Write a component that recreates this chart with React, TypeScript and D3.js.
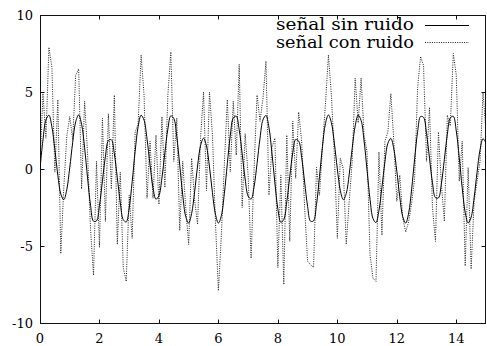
import * as d3 from 'd3'

const W = 487, H = 346
const M = { top: 15, right: 1, bottom: 23, left: 40 }

// muestreo cada 0.1 en t, de 0 a 15
const PASO = 0.1

const senalLimpia = [
  0, 1.89, 3.19, 3.49, 2.74, 1.26, -0.4, -1.63, -1.99, -1.35,
  0.07, 1.74, 3.06, 3.51, 2.9, 1.38, -0.58, -2.36, -3.39, -3.37,
  -2.37, -0.77, 0.82, 1.84, 1.9, 0.99, -0.56, -2.19, -3.29, -3.44,
  -2.53, -0.82, 1.15, 2.75, 3.49, 3.17, 1.94, 0.28, -1.21, -1.96,
  -1.73, -0.58, 1.06, 2.59, 3.45, 3.28, 2.1, 0.25, -1.68, -3.08,
  -3.51, -2.89, -1.47, 0.2, 1.52, 2.0, 1.48, 0.13, -1.54, -2.93,
  -3.51, -3.03, -1.6, 0.34, 2.17, 3.31, 3.43, 2.54, 0.98, -0.65,
  -1.76, -1.95, -1.15, 0.35, 2.0, 3.2, 3.48, 2.7, 1.06, -0.91,
  -2.59, -3.46, -3.27, -2.13, -0.49, 1.05, 1.92, 1.81, 0.76, -0.85,
  -2.43, -3.39, -3.36, -2.29, -0.49, 1.46, 2.95, 3.51, 3.01, 1.68,
  0.0, -1.39, -1.99, -1.59, -0.33, 1.34, 2.8, 3.5, 3.15, 1.82,
  -0.09, -1.97, -3.22, -3.48, -2.69, -1.19, 0.46, 1.67, 1.98, 1.3,
  -0.14, -1.81, -3.1, -3.51, -2.85, -1.3, 0.67, 2.42, 3.41, 3.35,
  2.31, 0.7, -0.89, -1.86, -1.88, -0.94, 0.63, 2.25, 3.32, 3.42,
  2.47, 0.74, -1.23, -2.81, -3.5, -3.13, -1.87, -0.2, 1.25, 1.97,
  1.69,
]

const senalRuido = [
  0.3, 4.9, 2.0, 7.9, 6.6, -0.2, 4.5, -5.5, -1.2, 2.1,
  3.4, 1.9, 6.1, 6.5, -1.3, 4.4, 1.0, -3.9, -6.9, 0.5,
  -5.1, 3.3, -3.4, 3.6, -1.3, 4.8, -4.9, -0.2, -6.4, -7.3,
  -1.7, -4.5, 2.4, 2.9, 7.4, 4.8, -1.9, 1.8, -1.9, 2.2,
  -2.3, 3.4, -1.2, 4.8, 7.6, 0.5, 3.3, -4.0, 0.5, -2.5,
  -4.9, 0.7, -2.0, -3.6, 2.0, 5.0, -1.4, 5.0, 2.2, -3.4,
  -7.9, -4.3, 0.3, 4.5, -0.2, 4.4, 0.9, 6.8, -2.5, 2.3,
  -0.4, -5.8, 0.0, 4.8, 3.1, 4.6, 7.0, -1.7, 1.4, 2.0,
  -6.4, -0.4, -7.5, 2.2, -4.7, 3.1, -0.6, 3.7, 1.8, -2.5,
  -6.0, -6.2, -6.4, 0.1, -1.7, 1.4, 4.2, 7.4, 4.8, 0.9,
  -4.5, 0.7, 0.0, -4.9, -2.1, 0.5, 5.9, 3.0, 5.9, 2.2,
  1.1, -5.6, -7.1, -7.3, 1.1, -4.3, 1.8, 2.4, 4.9, 1.8,
  -2.1, -0.4, -3.2, -4.1, -3.4, -2.2, -0.6, 5.3, 7.3, 6.7,
  0.5, 4.0, -2.5, -4.7, 2.4, -1.0, -3.4, 3.5, 2.8, 7.5,
  6.1, -0.8, 1.8, -6.3, 0.1, -6.5, -2.1, -0.8, 0.5, 5.0,
  2.4,
]

const xTicks = [0, 2, 4, 6, 8, 10, 12, 14]
const yTicks = [-10, -5, 0, 5, 10]
const leyenda = ['señal sin ruido', 'señal con ruido']

const FUENTE = '"DejaVu Serif", "Liberation Serif", serif'

export default function App() {
  const x = d3.scaleLinear().domain([0, 15]).range([M.left, W - M.right])
  const y = d3.scaleLinear().domain([-10, 10]).range([H - M.bottom, M.top])

  const linea = d3.line<number>().x((_, i) => x(i * PASO)).y((d) => y(d))
  const lineaSuave = d3.line<number>().x((_, i) => x(i * PASO)).y((d) => y(d)).curve(d3.curveCatmullRom)

  const x0 = M.left + 0.5, x1 = W - M.right - 0.5
  const y0 = M.top + 0.5, y1 = H - M.bottom + 0.5
  const tk = 4

  return (
    <svg width={W} height={H} style={{ position: 'absolute', left: 0, top: 0, background: '#fff' }}>
      <defs>
        <clipPath id="area">
          <rect x={x0} y={y0} width={x1 - x0} height={y1 - y0} />
        </clipPath>
      </defs>

      {/* marco y marcas */}
      <rect x={x0} y={y0} width={x1 - x0} height={y1 - y0} fill="none" stroke="#111" strokeWidth={1} />
      {xTicks.map((t) => (
        <g key={'x' + t}>
          <line x1={Math.round(x(t)) + 0.5} x2={Math.round(x(t)) + 0.5} y1={y1} y2={y1 - tk} stroke="#111" />
          <line x1={Math.round(x(t)) + 0.5} x2={Math.round(x(t)) + 0.5} y1={y0} y2={y0 + tk} stroke="#111" />
          <text x={x(t)} y={343} textAnchor="middle" fontFamily={FUENTE} fontSize={13} fill="#000">{t}</text>
        </g>
      ))}
      {yTicks.map((t) => (
        <g key={'y' + t}>
          <line x1={x0} x2={x0 + tk} y1={Math.round(y(t)) + 0.5} y2={Math.round(y(t)) + 0.5} stroke="#111" />
          <line x1={x1} x2={x1 - tk} y1={Math.round(y(t)) + 0.5} y2={Math.round(y(t)) + 0.5} stroke="#111" />
          <text x={33} y={y(t) + 5} textAnchor="end" fontFamily={FUENTE} fontSize={13} fill="#000">{t}</text>
        </g>
      ))}

      <g clipPath="url(#area)">
        <path d={linea(senalRuido) ?? ''} fill="none" stroke="#222" strokeWidth={1} strokeDasharray="1,1.3" />
        <path d={lineaSuave(senalLimpia) ?? ''} fill="none" stroke="#000" strokeWidth={1} />
      </g>

      {/* leyenda */}
      {leyenda.map((s, i) => (
        <g key={s}>
          <text x={414} y={30 + i * 18} textAnchor="end" fontFamily={FUENTE} fontSize={16}
            textLength={138} lengthAdjust="spacingAndGlyphs" fill="#000">{s}</text>
          <line x1={425} x2={469} y1={25.5 + i * 17} y2={25.5 + i * 17} stroke={i === 0 ? '#000' : '#222'}
            strokeWidth={1} strokeDasharray={i === 0 ? undefined : '1,1.3'} />
        </g>
      ))}
    </svg>
  )
}
